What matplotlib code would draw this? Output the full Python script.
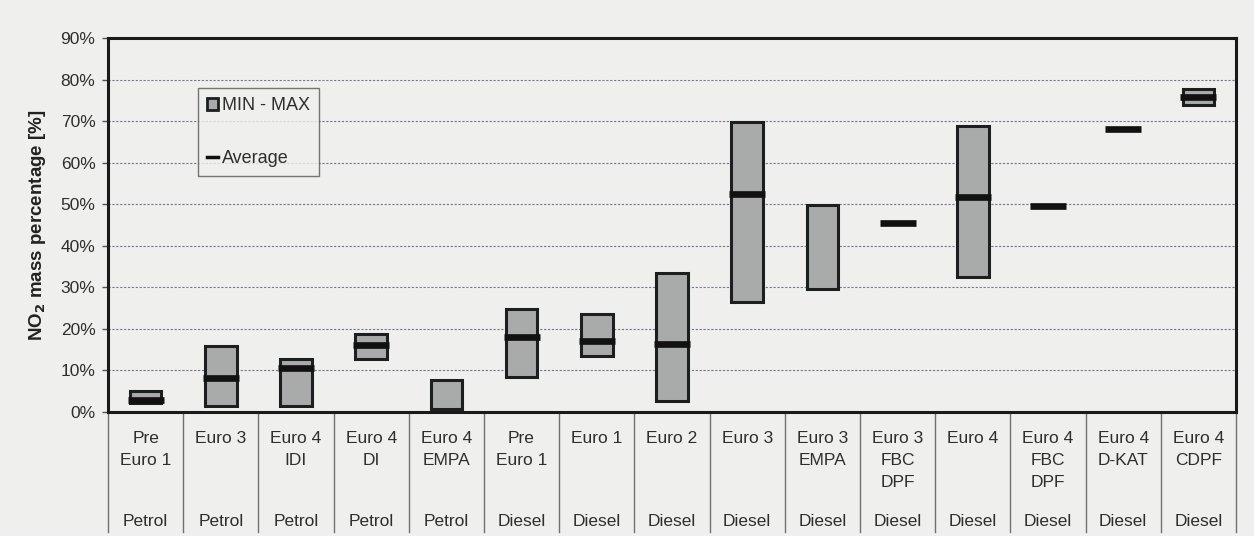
import numpy as np
import matplotlib.pyplot as plt
from matplotlib.patches import Patch
from matplotlib.lines import Line2D
from matplotlib.transforms import blended_transform_factory

plt.rcParams['font.family'] = ['Liberation Sans', 'DejaVu Sans']

# vehicle categories (top label rows) and fuel type (bottom row)
categories = ["Pre\nEuro 1", "Euro 3", "Euro 4\nIDI", "Euro 4\nDI", "Euro 4\nEMPA",
              "Pre\nEuro 1", "Euro 1", "Euro 2", "Euro 3", "Euro 3\nEMPA",
              "Euro 3\nFBC\nDPF", "Euro 4", "Euro 4\nFBC\nDPF", "Euro 4\nD-KAT", "Euro 4\nCDPF"]
fuels = ["Petrol"] * 5 + ["Diesel"] * 10

# NO2 mass percentage [%], nan where no value was reported
nan = np.nan
min_vals = [2.2, 1.5, 1.5, 12.8, 0.8, 8.5, 13.5, 2.6, 26.5, 29.7, nan, 32.5, nan, nan, 74.0]
max_vals = [5.0, 16.0, 12.8, 18.8, 7.8, 24.8, 23.6, 33.5, 69.9, 49.8, nan, 68.9, nan, nan, 77.8]
avg_vals = [3.0, 8.1, 10.5, 16.1, nan, 18.1, 17.1, 16.4, 52.5, nan, 45.5, 51.8, 49.6, 68.2, 75.9]

bg = '#efefed'
txt = '#2e2e2e'
fig = plt.figure(figsize=(12.54, 5.36), dpi=100, facecolor=bg)
ax = fig.add_axes([0.0861, 0.2313, 0.8995, 0.6977], facecolor=bg)

x = np.arange(len(categories))
lo = np.array(min_vals)
hi = np.array(max_vals)
ax.bar(x, hi - lo, bottom=lo, width=0.42, color='#a9abab', edgecolor='#1c1f1f',
       linewidth=2.2, zorder=3)
ax.hlines(avg_vals, x - 0.24, x + 0.24, colors='#111111', linewidth=4.8, zorder=4)

ax.set_xlim(-0.5, len(categories) - 0.5)
ax.set_ylim(0, 90)
ax.set_yticks(np.arange(0, 91, 10))
ax.set_yticklabels([f"{v}%" for v in range(0, 91, 10)], fontsize=12.5, color=txt)
ax.tick_params(axis='y', length=4, width=1, color='#555555', pad=5)
ax.set_xticks([])
ax.grid(axis='y', linestyle=(0, (2, 1.5)), color='#7a7490', linewidth=0.8, zorder=1)

for side in ['left', 'bottom', 'top', 'right']:
    ax.spines[side].set_linewidth(2.2)
    ax.spines[side].set_color('#1a1a1a')

ax.set_ylabel(r"NO$_\mathbf{2}$ mass percentage [%]", fontsize=13.5, fontweight='bold',
              color='#222222', labelpad=9)

# category table below the axis
trans = blended_transform_factory(ax.transData, ax.transAxes)
ax_h = 374.0
for i, (cat, fuel) in enumerate(zip(categories, fuels)):
    for j, line in enumerate(cat.split("\n")):
        ax.text(i, -(26 + 22 * j) / ax_h, line, transform=trans, ha='center',
                va='center', fontsize=12.5, color=txt)
    ax.text(i, -109 / ax_h, fuel, transform=trans, ha='center', va='center',
            fontsize=12.5, color=txt)
for b in np.arange(-0.5, len(categories), 1.0):
    ax.plot([b, b], [0, -120 / ax_h], transform=trans, color='#707070',
            linewidth=1.0, clip_on=False)

handles = [Patch(facecolor='#a9abab', edgecolor='#1c1f1f', linewidth=2),
           Line2D([0], [0], color='#111111', linewidth=2.5)]
leg = ax.legend(handles, ["MIN - MAX", "Average"], loc='upper left',
                bbox_to_anchor=(0.0798, 0.866), frameon=True, fancybox=False,
                fontsize=13, labelspacing=2.0, handlelength=0.6, handleheight=0.6,
                handletextpad=0.25, borderpad=0.5, borderaxespad=0,
                labelcolor=txt)
leg.get_frame().set_edgecolor('#555555')
leg.get_frame().set_facecolor(bg)
leg.get_frame().set_linewidth(1.0)
leg.set_zorder(5)

fig.savefig('out.png', dpi=100, facecolor=bg)
